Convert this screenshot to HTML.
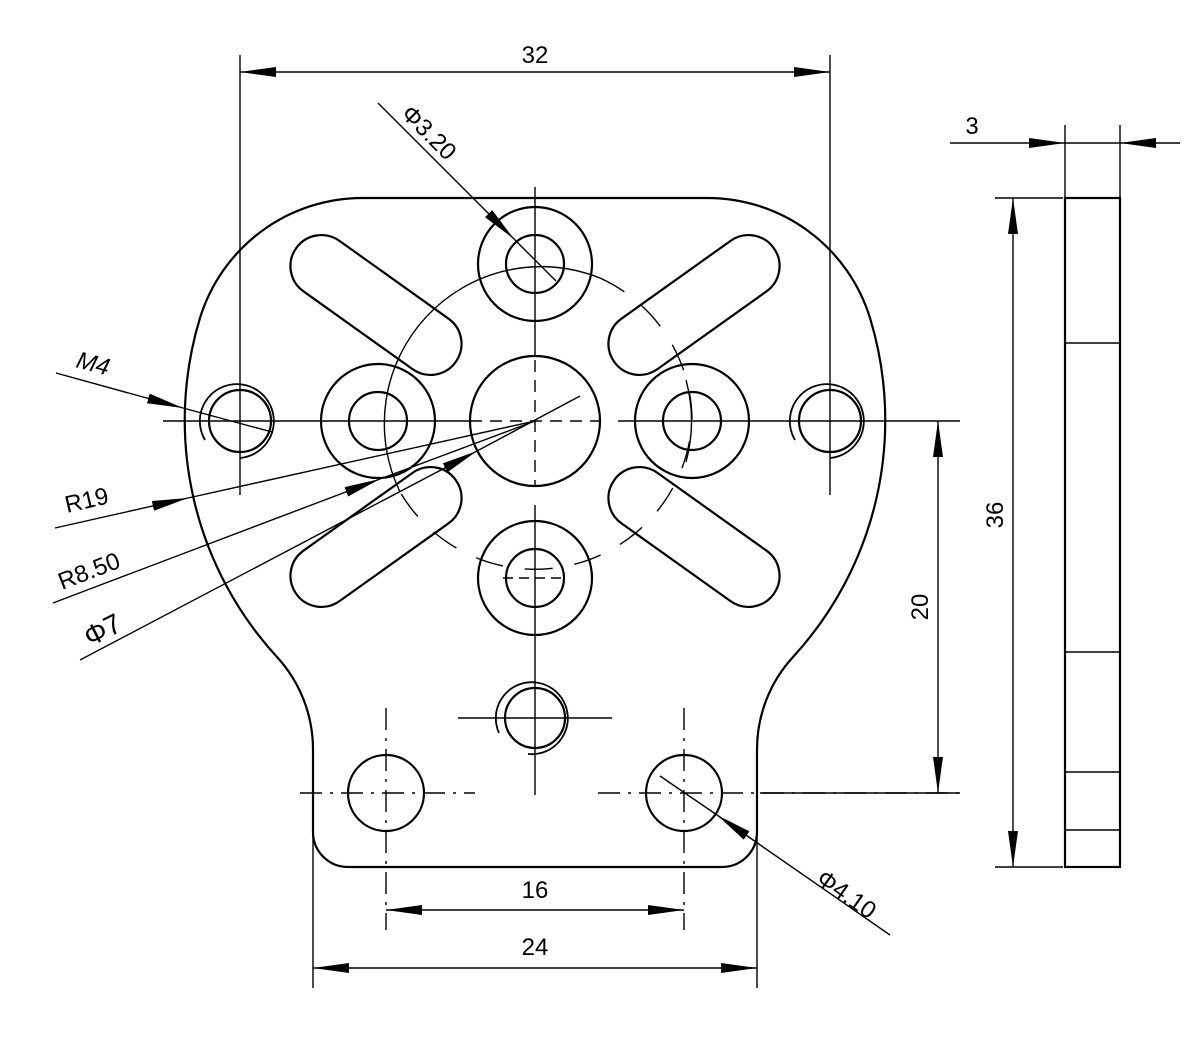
<!DOCTYPE html>
<html><head><meta charset="utf-8"><style>
html,body{margin:0;padding:0;background:#fff}
svg{display:block}
text{font-family:"Liberation Sans",sans-serif;fill:#000}
</style></head><body>
<svg width="1200" height="1040" viewBox="0 0 1200 1040" xmlns="http://www.w3.org/2000/svg">
<defs>
<marker id="a" markerUnits="userSpaceOnUse" markerWidth="40" markerHeight="14" refX="36" refY="6" orient="auto-start-reverse" viewBox="0 0 40 14">
<path d="M0,1 L36,6 L0,11 Z" fill="#000"/>
</marker>
</defs>
<g fill="none" stroke="#000" stroke-width="2.2">
<!-- outline -->
<path d="M363,198 L707,198 A170,170 0 0 1 870,318 A350,350 0 0 1 793,657 A136.8,136.8 0 0 0 757,750 L757,832 A35,35 0 0 1 722,867 L348,867 A35,35 0 0 1 313,832 L313,750 A136.8,136.8 0 0 0 277,657 A350,350 0 0 1 200,318 A170,170 0 0 1 363,198 Z"/>
<!-- center -->
<circle cx="535" cy="421" r="65"/>
<!-- 4 bosses -->
<circle cx="535" cy="264" r="57"/><circle cx="535" cy="264" r="29"/>
<circle cx="535" cy="578" r="57"/><circle cx="535" cy="578" r="29"/>
<circle cx="378" cy="421" r="57"/><circle cx="378" cy="421" r="29"/>
<circle cx="692" cy="421" r="57"/><circle cx="692" cy="421" r="29"/>
<!-- slots -->
<rect x="278" y="274" width="196" height="62" rx="31" transform="rotate(35.5 376 305)"/>
<rect x="278" y="506" width="196" height="62" rx="31" transform="rotate(-35.5 376 537)"/>
<rect x="596" y="274" width="196" height="62" rx="31" transform="rotate(-35.5 694 305)"/>
<rect x="596" y="506" width="196" height="62" rx="31" transform="rotate(35.5 694 537)"/>
<!-- M4 holes -->
<circle cx="240" cy="421" r="31"/>
<path d="M205,440 A37,37 0 1 1 240,458" stroke-width="1.8"/>
<circle cx="830" cy="421" r="31"/>
<path d="M795,440 A37,37 0 1 1 830,458" stroke-width="1.8"/>
<circle cx="535" cy="718" r="30"/>
<path d="M499,733 A36,36 0 1 1 528,754" stroke-width="1.8"/>
<!-- bottom holes -->
<circle cx="386" cy="793" r="38"/>
<circle cx="684" cy="793" r="38"/>
<!-- side view -->
<rect x="1065" y="198" width="55" height="669"/>
</g>
<g fill="none" stroke="#000" stroke-width="1.4">
<!-- pitch circle -->
<path d="M400,492 A157,157 0 0 1 600,278"/>
<path d="M600,278 A157,157 0 0 1 692,421 A157,157 0 0 1 400,492" stroke-dasharray="28,22"/>
<path d="M686,380 A157,157 0 0 1 686,462" />
<!-- centerlines -->
<line x1="163" y1="421" x2="470" y2="421"/>
<line x1="470" y1="421" x2="600" y2="421" stroke-dasharray="12,8"/>
<line x1="618" y1="421" x2="960" y2="421"/>
<line x1="535" y1="187" x2="535" y2="355"/>
<line x1="535" y1="360" x2="535" y2="485" stroke-dasharray="12,8"/>
<line x1="535" y1="505" x2="535" y2="795"/>
<line x1="503" y1="578" x2="567" y2="578" stroke-dasharray="10,6"/>
<line x1="458" y1="718" x2="612" y2="718"/>
<line x1="300" y1="793" x2="475" y2="793" stroke-dasharray="22,8,3,8"/>
<line x1="598" y1="793" x2="960" y2="793" stroke-dasharray="22,8,3,8"/>
<line x1="386" y1="708" x2="386" y2="930" stroke-dasharray="22,8,3,8"/>
<line x1="684" y1="708" x2="684" y2="930" stroke-dasharray="22,8,3,8"/>
<line x1="760" y1="793" x2="960" y2="793"/>
<!-- 32 -->
<line x1="240" y1="55" x2="240" y2="495"/>
<line x1="830" y1="55" x2="830" y2="495"/>
<line x1="240" y1="72" x2="830" y2="72" marker-start="url(#a)" marker-end="url(#a)"/>
<!-- 16 / 24 -->
<line x1="386" y1="910" x2="684" y2="910" marker-start="url(#a)" marker-end="url(#a)"/>
<line x1="313" y1="830" x2="313" y2="988"/>
<line x1="757" y1="830" x2="757" y2="988"/>
<line x1="313" y1="968" x2="757" y2="968" marker-start="url(#a)" marker-end="url(#a)"/>
<!-- 20 -->
<line x1="938" y1="421" x2="938" y2="793" marker-start="url(#a)" marker-end="url(#a)"/>
<!-- 36 -->
<line x1="995" y1="198" x2="1063" y2="198"/>
<line x1="995" y1="867" x2="1063" y2="867"/>
<line x1="1013" y1="198" x2="1013" y2="867" marker-start="url(#a)" marker-end="url(#a)"/>
<!-- 3 -->
<line x1="1065" y1="125" x2="1065" y2="198"/>
<line x1="1120" y1="125" x2="1120" y2="198"/>
<line x1="950" y1="143" x2="1065" y2="143" marker-end="url(#a)"/>
<line x1="1180" y1="143" x2="1120" y2="143" marker-end="url(#a)"/>
<line x1="1065" y1="143" x2="1120" y2="143"/>
<!-- side view lines -->
<line x1="1065" y1="343" x2="1120" y2="343"/>
<line x1="1065" y1="652" x2="1120" y2="652"/>
<line x1="1065" y1="772" x2="1120" y2="772"/>
<line x1="1065" y1="830" x2="1120" y2="830"/>
<!-- leaders -->
<line x1="378" y1="103" x2="514" y2="239" marker-end="url(#a)"/>
<line x1="514" y1="239" x2="556" y2="281"/>
<line x1="56" y1="373" x2="183" y2="408" marker-end="url(#a)"/>
<line x1="183" y1="408" x2="272" y2="432"/>
<line x1="55" y1="528" x2="188" y2="498" marker-end="url(#a)"/>
<line x1="188" y1="498" x2="535" y2="421"/>
<line x1="53" y1="603" x2="380" y2="479" marker-end="url(#a)"/>
<line x1="380" y1="479" x2="535" y2="421"/>
<line x1="80" y1="660" x2="477" y2="451" marker-end="url(#a)"/>
<line x1="477" y1="451" x2="580" y2="396"/>
<line x1="890" y1="935" x2="717" y2="815" marker-end="url(#a)"/>
<line x1="717" y1="815" x2="660" y2="776"/>
</g>
<g font-size="24">
<text x="535" y="63" text-anchor="middle" transform="scale(1,1)">32</text>
<text x="535" y="898" text-anchor="middle">16</text>
<text x="535" y="955" text-anchor="middle">24</text>
<text x="972" y="134" text-anchor="middle">3</text>
<text transform="translate(928,607) rotate(-90)" text-anchor="middle">20</text>
<text transform="translate(1003,515) rotate(-90)" text-anchor="middle">36</text>
<text transform="translate(400,115) rotate(45)">Φ3.20</text>
<text transform="translate(75,367) rotate(15)" font-style="italic">M4</text>
<text transform="translate(67,513) rotate(-13)">R19</text>
<text transform="translate(62,590) rotate(-21)">R8.50</text>
<text transform="translate(90,647) rotate(-27)" font-size="28">Φ7</text>
<text transform="translate(815,882) rotate(35)">Φ4.10</text>
</g>
</svg>
</body></html>
